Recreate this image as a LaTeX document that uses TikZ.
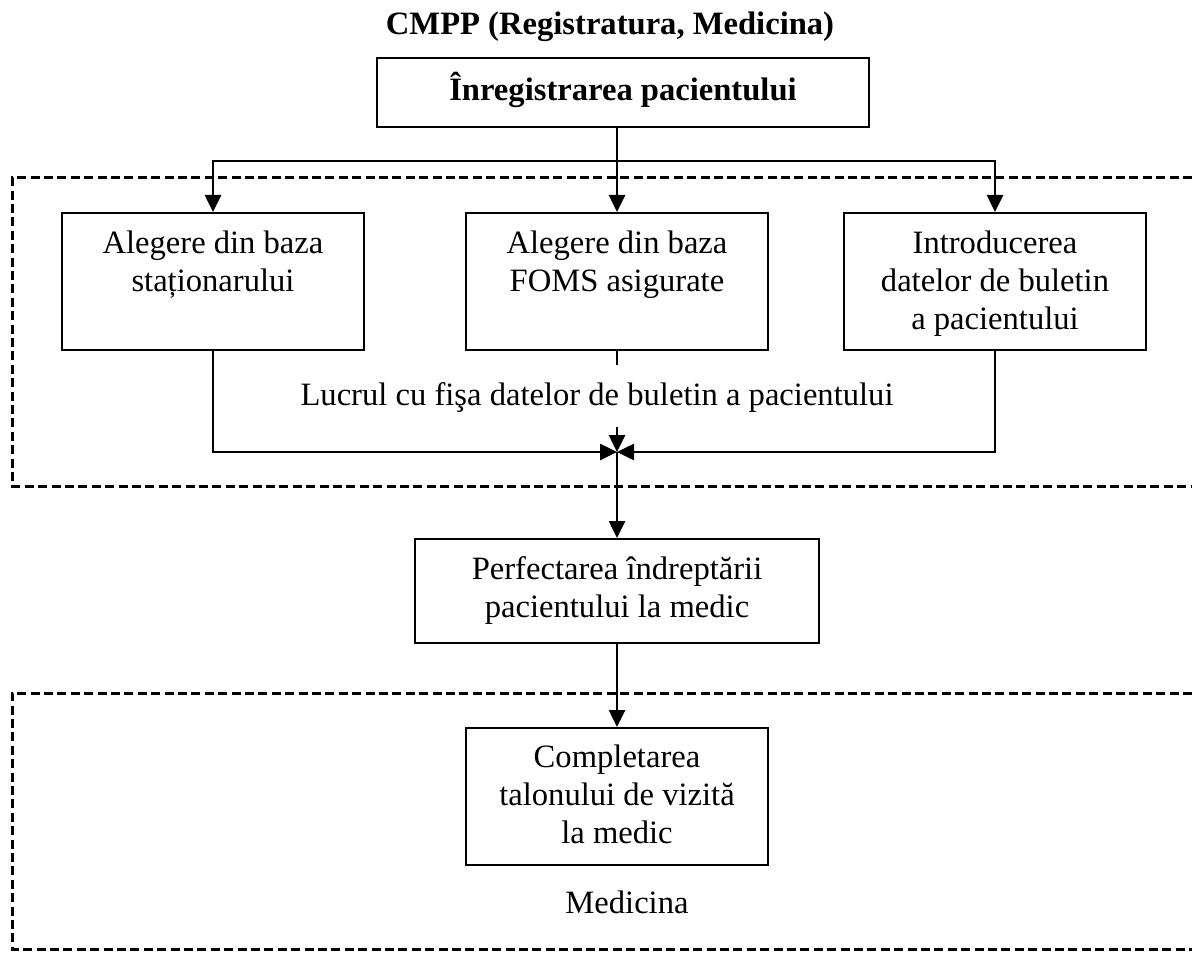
\documentclass[tikz,border=0pt]{standalone}
\usepackage{fontspec}
\setmainfont{Liberation Serif}
\usetikzlibrary{arrows.meta}
\newcommand\diagfont{\fontsize{16.3pt}{19pt}\selectfont}
\begin{document}
\begin{tikzpicture}[x=0.5pt,y=-0.5pt,
  every node/.style={font=\diagfont},
  stage/.style={draw, line width=1pt, inner sep=0pt, anchor=north, align=flush center},
  arr/.style={line width=1.3pt, -{Triangle[length=8.5pt,width=8pt]}},
  zone/.style={line width=1.5pt, dash pattern=on 4.5pt off 2.2pt},
]
\useasboundingbox (0,0) rectangle (1192,952);

% dashed zones (open towards the right edge)
\draw[zone] (1192,178) -- (12,178) -- (12,486) -- (1192,486);
\draw[zone] (1192,693) -- (12,693) -- (12,949) -- (1192,949);

% title
\node[anchor=base, font=\diagfont\bfseries] (title) at (610,35) {CMPP (Registratura, Medicina)};

% process boxes
\node[stage, text width=246pt, text height=21.5pt, text depth=13pt, font=\diagfont\bfseries]
  (reg) at (623,57) {Înregistrarea pacientului};
\node[stage, text width=151pt, text height=20pt, text depth=48.5pt]
  (base1) at (213,212) {Alegere din baza\\ staționarului};
\node[stage, text width=151pt, text height=20pt, text depth=48.5pt]
  (base2) at (617,212) {Alegere din baza\\ FOMS asigurate};
\node[stage, text width=151pt, text height=20pt, text depth=48.5pt]
  (manual) at (995,212) {Introducerea\\ datelor de buletin\\ a pacientului};
\node[stage, text width=202pt, text height=20pt, text depth=32pt]
  (referral) at (617,538) {Perfectarea îndreptării\\ pacientului la medic};
\node[stage, text width=151pt, text height=19.5pt, text depth=49pt]
  (visit) at (617,727) {Completarea\\ talonului de vizită\\ la medic};

% junction points
\coordinate (split) at (617,161);
\coordinate (join) at (617,452);

% distribution from registration
\draw[arr] (base2.north |- reg.south) -- (base2.north);
\draw[arr] (split) -| (base1.north);
\draw[arr] (split) -| (manual.north);

% collection into the patient record
\draw[arr] (base1.south) |- (join);
\draw[arr] (manual.south) |- (join);
\draw[arr] (base2.south) -- (join);
\node[fill=white, inner xsep=3pt, inner ysep=0pt, text height=20pt, text depth=11pt, anchor=base]
  (worklabel) at (597,405) {Lucrul cu fişa datelor de buletin a pacientului};

% downstream flow
\draw[arr] (join) -- (referral.north);
\draw[arr] (referral.south) -- (visit.north);

\node[anchor=base] (medlabel) at (627,913) {Medicina};
\end{tikzpicture}
\end{document}
